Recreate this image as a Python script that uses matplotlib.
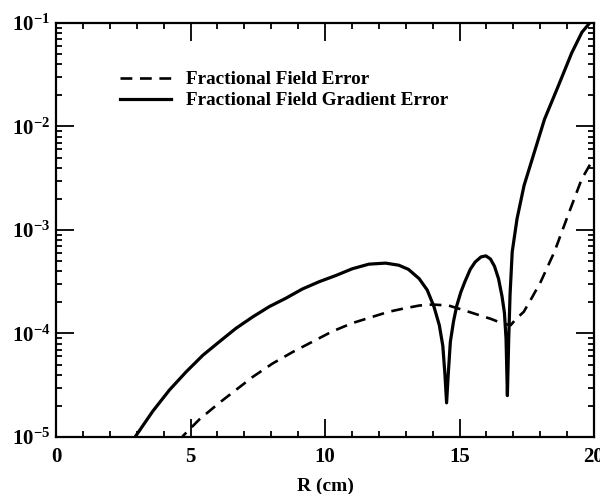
import numpy as np
import matplotlib
matplotlib.use("Agg")
import matplotlib.pyplot as plt
from matplotlib.ticker import FixedLocator, LogLocator, NullFormatter

plt.rcParams['font.family'] = ['Liberation Serif', 'DejaVu Serif']
plt.rcParams['font.weight'] = 'bold'
plt.rcParams['mathtext.fontset'] = 'custom'
plt.rcParams['mathtext.rm'] = 'Liberation Serif:bold'
plt.rcParams['mathtext.bf'] = 'Liberation Serif:bold'
plt.rcParams['mathtext.it'] = 'Liberation Serif:bold'
plt.rcParams['lines.scale_dashes'] = False

# Fractional Field Gradient Error (solid), log10 of value
grad_r = [2.86, 3.60, 4.22, 4.84, 5.46, 6.07, 6.69, 7.31, 7.93, 8.54, 9.16, 9.78,
          10.40, 11.01, 11.63, 12.25, 12.74, 13.1, 13.5, 13.8, 14.05, 14.25, 14.38,
          14.46, 14.52, 14.58, 14.66, 14.78, 14.9, 15.05, 15.2, 15.4, 15.58, 15.8,
          15.98, 16.15, 16.3, 16.45, 16.58, 16.67, 16.73, 16.78, 16.83, 16.88, 16.96,
          17.14, 17.40, 17.78, 18.16, 18.67, 19.17, 19.55, 20.0]
grad_log = [-5.03, -4.75, -4.545, -4.37, -4.21, -4.08, -3.95, -3.84, -3.74, -3.66, -3.57, -3.50,
            -3.44, -3.375, -3.33, -3.32, -3.34, -3.38, -3.47, -3.58, -3.74, -3.92, -4.12,
            -4.40, -4.67, -4.40, -4.08, -3.88, -3.73, -3.60, -3.50, -3.38, -3.31, -3.26,
            -3.25, -3.28, -3.35, -3.47, -3.64, -3.80, -4.05, -4.60, -4.05, -3.62, -3.21,
            -2.89, -2.57, -2.25, -1.93, -1.61, -1.29, -1.09, -0.95]

# Fractional Field Error (dashed), log10 of value
field_r = [4.60, 4.72, 5.33, 6.07, 6.69, 7.31, 8.05, 8.79, 9.53, 10.27, 11.01, 11.75,
           12.37, 12.9, 13.5, 14.0, 14.6, 15.1, 15.58, 16.18, 16.57, 16.9, 17.1, 17.39,
           17.7, 18.02, 18.53, 19.03, 19.54, 20.0]
field_log = [-5.05, -4.99, -4.83, -4.67, -4.545, -4.42, -4.29, -4.18, -4.08, -3.98, -3.90, -3.84,
             -3.79, -3.76, -3.73, -3.72, -3.73, -3.77, -3.81, -3.86, -3.90, -3.92, -3.86, -3.79,
             -3.65, -3.50, -3.21, -2.86, -2.51, -2.30]

legend_labels = ['Fractional Field Error', 'Fractional Field Gradient Error']
x_ticks = [0, 5, 10, 15, 20]
x_ticklabels = ['0', '5', '10', '15', '20']
y_ticks = [1e-5, 1e-4, 1e-3, 1e-2, 1e-1]
y_ticklabels = [r'$10^{-5}$', r'$10^{-4}$', r'$10^{-3}$', r'$10^{-2}$', r'$10^{-1}$']

fig = plt.figure(figsize=(6.0, 4.94), dpi=100)
ax = fig.add_axes([56/600, 1-437/494, (594-56)/600, (437-23)/494])

ax.plot(field_r, 10**np.array(field_log), color='black', lw=1.9,
        dashes=(8.5, 5.5), label=legend_labels[0])
ax.plot(grad_r, 10**np.array(grad_log), color='black', lw=2.3,
        label=legend_labels[1])

ax.set_yscale('log')
ax.set_xlim(0, 20)
ax.set_ylim(1e-5, 1e-1)

ax.xaxis.set_major_locator(FixedLocator(x_ticks))
ax.set_xticklabels(x_ticklabels)
ax.xaxis.set_minor_locator(FixedLocator(np.arange(0, 21, 1)))
ax.yaxis.set_major_locator(FixedLocator(y_ticks))
ax.set_yticklabels(y_ticklabels)
ax.yaxis.set_minor_locator(LogLocator(base=10, subs=np.arange(2, 10), numticks=20))
ax.yaxis.set_minor_formatter(NullFormatter())

ax.tick_params(which='both', direction='in', top=True, right=True, width=1.3, color='black')
ax.tick_params(which='major', length=13, labelsize=15)
ax.tick_params(which='minor', length=4.5)
ax.tick_params(axis='x', which='major', pad=7)
ax.tick_params(axis='y', which='major', pad=4)
for s in ax.spines.values():
    s.set_linewidth(1.6)

ax.set_xlabel('R (cm)', fontsize=14, fontweight='bold', labelpad=8)

leg = ax.legend(loc='upper left', bbox_to_anchor=(0.104, 0.903), frameon=False,
                fontsize=13.8, handlelength=2.7, handletextpad=0.78,
                labelspacing=0.2, borderaxespad=0)

fig.savefig('out.png', dpi=100)
